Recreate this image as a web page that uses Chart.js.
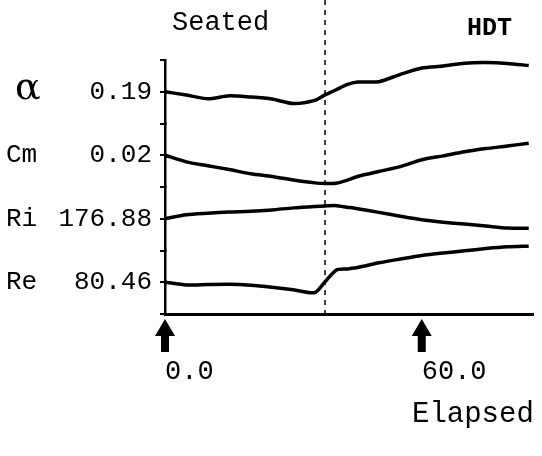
<!DOCTYPE html>
<html>
<head>
<meta charset="utf-8">
<script src="https://cdn.jsdelivr.net/npm/chart.js@4.4.1/dist/chart.umd.min.js"></script>
<style>
  html, body { margin: 0; padding: 0; background: #fff; }
  #caixa { position: relative; width: 542px; height: 456px; }
</style>
</head>
<body>
<div id="caixa"><canvas id="grafico-elapsed"></canvas></div>
<script>
// Dados (tempo decorrido)
const tempos = [0, 5, 10, 15, 20, 25, 30, 35, 37.5, 40, 42.5, 45, 50, 55, 60, 65, 70, 75, 80, 85];
const serieAlpha = [0.190, 0.1869, 0.1833, 0.1862, 0.1850, 0.1831, 0.1789, 0.1819, 0.1873, 0.1919, 0.1967, 0.1992, 0.1995, 0.2064, 0.2124, 0.2143, 0.2170, 0.2176, 0.2168, 0.2148];
const serieCm = [0.0200, 0.0179, 0.0167, 0.0155, 0.0142, 0.0133, 0.0122, 0.0113, 0.0111, 0.0112, 0.0121, 0.0133, 0.0149, 0.0164, 0.0186, 0.0198, 0.0211, 0.0221, 0.0229, 0.0238];
const serieRi = [176.88, 180.69, 182.12, 183.26, 183.92, 185.26, 187.16, 188.49, 188.97, 189.26, 187.83, 186.40, 182.88, 179.26, 175.93, 173.64, 171.83, 170.03, 168.12, 167.84];
const serieRe = [80.46, 78.75, 79.06, 79.19, 78.55, 77.28, 75.70, 73.92, 81.10, 88.08, 88.84, 89.73, 92.72, 95.07, 97.29, 98.88, 100.27, 101.67, 102.75, 103.19];

const nomesSeries = ['α', 'Cm', 'Ri', 'Re'];
const rotulosBase = ['0.19', '0.02', '176.88', '80.46'];
const valoresBase = [0.19, 0.02, 176.88, 80.46];
const meiaFaixa = [0.03, 0.01, 30, 20];
const idsEixos = ['yAlpha', 'yCm', 'yRi', 'yRe'];
const series = [serieAlpha, serieCm, serieRi, serieRe];

const ticksTempo = [0, 60];
const tempoMarcador = 37.4;
const tituloEixoX = 'Elapsed';

const fonteMono = '"Liberation Mono", "DejaVu Sans Mono", monospace';

// Eixo y de cada curva (empilhados)
function criarEixoY(i) {
    return {
        type: 'linear',
        position: 'left',
        stack: 'curvas',
        stackWeight: 1,
        min: valoresBase[i] - meiaFaixa[i],
        max: valoresBase[i] + meiaFaixa[i],
        afterBuildTicks: eixo => {
            eixo.ticks = [{ value: eixo.min }, { value: valoresBase[i] }, { value: eixo.max }];
        },
        afterFit: eixo => { eixo.width = 165; },
        border: { display: true, color: '#000', width: 2.5 },
        grid: { drawOnChartArea: false, drawTicks: true, tickLength: 5, color: '#000', lineWidth: 2 },
        ticks: {
            autoSkip: false,
            padding: 8,
            color: '#000',
            font: { family: fonteMono, size: 26 },
            callback: (v, idx) => idx === 1 ? rotulosBase[i] : ''
        }
    };
}

// Textos, linha tracejada e setas
const desenhosExtras = {
    id: 'desenhosExtras',
    afterDraw(chart) {
        const ctx = chart.ctx;
        const area = chart.chartArea;
        const eixoX = chart.scales.x;
        ctx.save();

        // Linha tracejada da mudança de postura
        const xm = eixoX.getPixelForValue(tempoMarcador);
        ctx.strokeStyle = '#000';
        ctx.lineWidth = 1.5;
        ctx.setLineDash([5, 5]);
        ctx.beginPath();
        ctx.moveTo(xm, 0);
        ctx.lineTo(xm, area.bottom);
        ctx.stroke();
        ctx.setLineDash([]);

        // Setas sob o eixo
        ctx.fillStyle = '#000';
        ticksTempo.forEach(t => {
            const xs = eixoX.getPixelForValue(t);
            const y0 = area.bottom + 5;
            ctx.beginPath();
            ctx.moveTo(xs, y0);
            ctx.lineTo(xs + 10, y0 + 17);
            ctx.lineTo(xs + 4, y0 + 17);
            ctx.lineTo(xs + 4, y0 + 33);
            ctx.lineTo(xs - 4, y0 + 33);
            ctx.lineTo(xs - 4, y0 + 17);
            ctx.lineTo(xs - 10, y0 + 17);
            ctx.closePath();
            ctx.fill();
        });

        // Nomes das curvas
        ctx.textBaseline = 'middle';
        ctx.textAlign = 'left';
        nomesSeries.forEach((nome, i) => {
            const y = chart.scales[idsEixos[i]].getPixelForValue(valoresBase[i]);
            if (i === 0) {
                ctx.font = '38px "DejaVu Serif", serif';
                ctx.fillText(nome, 15, y - 3);
            } else {
                ctx.font = '26px ' + fonteMono;
                ctx.fillText(nome, 6, y);
            }
        });

        // Fases e título do eixo
        ctx.textBaseline = 'alphabetic';
        ctx.font = '27px ' + fonteMono;
        ctx.fillText('Seated', 172, 30);
        ctx.font = 'bold 25px ' + fonteMono;
        ctx.fillText('HDT', 467, 35);
        ctx.font = '29px ' + fonteMono;
        ctx.fillText(tituloEixoX, 412, 422);
        ctx.restore();
    }
};

const escalas = {
    x: {
        type: 'linear',
        min: 0,
        max: 86,
        afterBuildTicks: eixo => { eixo.ticks = ticksTempo.map(v => ({ value: v })); },
        afterFit: eixo => { eixo.height = 142; },
        border: { display: true, color: '#000', width: 3 },
        grid: { drawOnChartArea: false, drawTicks: false, color: 'rgba(0,0,0,0)' },
        ticks: {
            autoSkip: false,
            align: 'start',
            maxRotation: 0,
            padding: 42,
            color: '#000',
            font: { family: fonteMono, size: 27 },
            callback: v => v.toFixed(1)
        }
    }
};
// ordem inversa: o último fica no topo da pilha
for (let i = idsEixos.length - 1; i >= 0; i--) {
    escalas[idsEixos[i]] = criarEixoY(i);
}

const datasets = series.map((serie, i) => ({
    label: nomesSeries[i],
    data: tempos.map((t, k) => ({ x: t, y: serie[k] })),
    yAxisID: idsEixos[i],
    borderColor: '#000',
    borderWidth: 3.5,
    pointRadius: 0,
    tension: 0.25,
    clip: false
}));

new Chart(document.getElementById('grafico-elapsed'), {
    type: 'line',
    data: { datasets: datasets },
    options: {
        responsive: true,
        maintainAspectRatio: false,
        animation: false,
        layout: { padding: { top: 60, right: 9, left: 0, bottom: 0 } },
        scales: escalas,
        plugins: {
            legend: { display: false },
            tooltip: { enabled: false }
        }
    },
    plugins: [desenhosExtras]
});
</script>
</body>
</html>
